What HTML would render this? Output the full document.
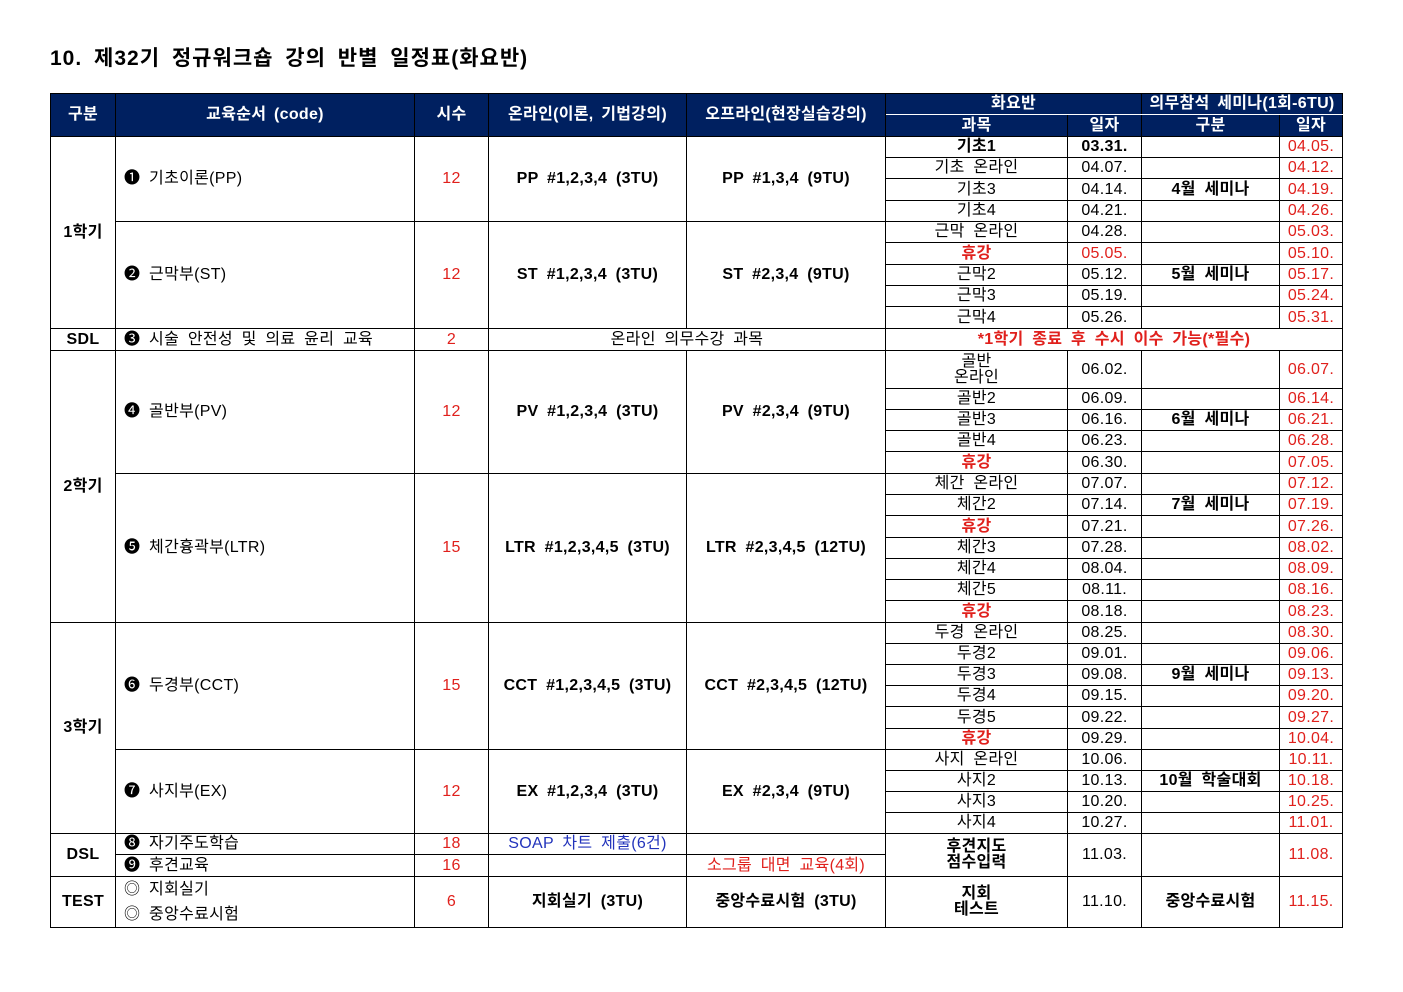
<!DOCTYPE html>
<html><head><meta charset="utf-8">
<style>
html,body{margin:0;padding:0;background:#fff;}
body{width:1403px;height:992px;position:relative;font-family:"Liberation Sans","Noto Sans CJK KR",sans-serif;color:#000;}
.title{position:absolute;left:50px;top:42px;font-size:21px;font-weight:bold;letter-spacing:1px;word-spacing:5px;}
table{position:absolute;left:50px;top:93px;border-collapse:collapse;table-layout:fixed;width:1292px;}
td{border:1px solid #000;padding:0;font-size:16px;line-height:16px;text-align:center;vertical-align:middle;overflow:hidden;white-space:nowrap;letter-spacing:0.3px;word-spacing:4px;}
th{background:#002060;color:#fff;font-weight:bold;font-size:16px;line-height:16px;border:1px solid #000;padding:0;letter-spacing:0.3px;word-spacing:3px;}
th.r1{border-bottom:1px solid #fff;}
.b{font-weight:bold;}
.r{color:#e0201c;}
.bl{color:#2233bb;}
.l{text-align:left;padding-left:8px;}
</style></head><body>
<div class="title">10. 제32기 정규워크숍 강의 반별 일정표(화요반)</div>
<table>
<colgroup><col style="width:65px"><col style="width:299px"><col style="width:74px"><col style="width:198px"><col style="width:199px"><col style="width:182px"><col style="width:74px"><col style="width:138px"><col style="width:63px"></colgroup>
<tr style="height:21px"><th rowspan="2">구분</th><th rowspan="2">교육순서 (code)</th><th rowspan="2">시수</th><th rowspan="2">온라인(이론, 기법강의)</th><th rowspan="2">오프라인(현장실습강의)</th><th colspan="2" class="r1">화요반</th><th colspan="2" class="r1">의무참석 세미나(1회-6TU)</th></tr>
<tr style="height:22px"><th>과목</th><th>일자</th><th>구분</th><th>일자</th></tr>

<tr style="height:21px"><td rowspan="9" class="b">1학기</td><td rowspan="4" class="l">❶ 기초이론(PP)</td><td rowspan="4" class="r">12</td><td rowspan="4" class="b">PP #1,2,3,4 (3TU)</td><td rowspan="4" class="b">PP #1,3,4 (9TU)</td><td class="b">기초1</td><td class="b">03.31.</td><td></td><td class="r">04.05.</td></tr>
<tr style="height:21px"><td>기초 온라인</td><td>04.07.</td><td></td><td class="r">04.12.</td></tr>
<tr style="height:22px"><td>기초3</td><td>04.14.</td><td class="b">4월 세미나</td><td class="r">04.19.</td></tr>
<tr style="height:21px"><td>기초4</td><td>04.21.</td><td></td><td class="r">04.26.</td></tr>
<tr style="height:21px"><td rowspan="5" class="l">❷ 근막부(ST)</td><td rowspan="5" class="r">12</td><td rowspan="5" class="b">ST #1,2,3,4 (3TU)</td><td rowspan="5" class="b">ST #2,3,4 (9TU)</td><td>근막 온라인</td><td>04.28.</td><td></td><td class="r">05.03.</td></tr>
<tr style="height:22px"><td class="r b">휴강</td><td class="r">05.05.</td><td></td><td class="r">05.10.</td></tr>
<tr style="height:21px"><td>근막2</td><td>05.12.</td><td class="b">5월 세미나</td><td class="r">05.17.</td></tr>
<tr style="height:21px"><td>근막3</td><td>05.19.</td><td></td><td class="r">05.24.</td></tr>
<tr style="height:22px"><td>근막4</td><td>05.26.</td><td></td><td class="r">05.31.</td></tr>

<tr style="height:22px"><td class="b">SDL</td><td class="l">❸ 시술 안전성 및 의료 윤리 교육</td><td class="r">2</td><td colspan="2">온라인 의무수강 과목</td><td colspan="4" class="r b">*1학기 종료 후 수시 이수 가능(*필수)</td></tr>

<tr style="height:38px"><td rowspan="12" class="b">2학기</td><td rowspan="5" class="l">❹ 골반부(PV)</td><td rowspan="5" class="r">12</td><td rowspan="5" class="b">PV #1,2,3,4 (3TU)</td><td rowspan="5" class="b">PV #2,3,4 (9TU)</td><td>골반<br>온라인</td><td>06.02.</td><td></td><td class="r">06.07.</td></tr>
<tr style="height:21px"><td>골반2</td><td>06.09.</td><td></td><td class="r">06.14.</td></tr>
<tr style="height:21px"><td>골반3</td><td>06.16.</td><td class="b">6월 세미나</td><td class="r">06.21.</td></tr>
<tr style="height:21px"><td>골반4</td><td>06.23.</td><td></td><td class="r">06.28.</td></tr>
<tr style="height:22px"><td class="r b">휴강</td><td>06.30.</td><td></td><td class="r">07.05.</td></tr>
<tr style="height:21px"><td rowspan="7" class="l">❺ 체간흉곽부(LTR)</td><td rowspan="7" class="r">15</td><td rowspan="7" class="b">LTR #1,2,3,4,5 (3TU)</td><td rowspan="7" class="b">LTR #2,3,4,5 (12TU)</td><td>체간 온라인</td><td>07.07.</td><td></td><td class="r">07.12.</td></tr>
<tr style="height:21px"><td>체간2</td><td>07.14.</td><td class="b">7월 세미나</td><td class="r">07.19.</td></tr>
<tr style="height:22px"><td class="r b">휴강</td><td>07.21.</td><td></td><td class="r">07.26.</td></tr>
<tr style="height:21px"><td>체간3</td><td>07.28.</td><td></td><td class="r">08.02.</td></tr>
<tr style="height:21px"><td>체간4</td><td>08.04.</td><td></td><td class="r">08.09.</td></tr>
<tr style="height:21px"><td>체간5</td><td>08.11.</td><td></td><td class="r">08.16.</td></tr>
<tr style="height:22px"><td class="r b">휴강</td><td>08.18.</td><td></td><td class="r">08.23.</td></tr>

<tr style="height:21px"><td rowspan="10" class="b">3학기</td><td rowspan="6" class="l">❻ 두경부(CCT)</td><td rowspan="6" class="r">15</td><td rowspan="6" class="b">CCT #1,2,3,4,5 (3TU)</td><td rowspan="6" class="b">CCT #2,3,4,5 (12TU)</td><td>두경 온라인</td><td>08.25.</td><td></td><td class="r">08.30.</td></tr>
<tr style="height:21px"><td>두경2</td><td>09.01.</td><td></td><td class="r">09.06.</td></tr>
<tr style="height:21px"><td>두경3</td><td>09.08.</td><td class="b">9월 세미나</td><td class="r">09.13.</td></tr>
<tr style="height:21px"><td>두경4</td><td>09.15.</td><td></td><td class="r">09.20.</td></tr>
<tr style="height:22px"><td>두경5</td><td>09.22.</td><td></td><td class="r">09.27.</td></tr>
<tr style="height:21px"><td class="r b">휴강</td><td>09.29.</td><td></td><td class="r">10.04.</td></tr>
<tr style="height:21px"><td rowspan="4" class="l">❼ 사지부(EX)</td><td rowspan="4" class="r">12</td><td rowspan="4" class="b">EX #1,2,3,4 (3TU)</td><td rowspan="4" class="b">EX #2,3,4 (9TU)</td><td>사지 온라인</td><td>10.06.</td><td></td><td class="r">10.11.</td></tr>
<tr style="height:21px"><td>사지2</td><td>10.13.</td><td class="b">10월 학술대회</td><td class="r">10.18.</td></tr>
<tr style="height:21px"><td>사지3</td><td>10.20.</td><td></td><td class="r">10.25.</td></tr>
<tr style="height:21px"><td>사지4</td><td>10.27.</td><td></td><td class="r">11.01.</td></tr>

<tr style="height:21px"><td rowspan="2" class="b">DSL</td><td class="l">❽ 자기주도학습</td><td class="r">18</td><td class="bl">SOAP 차트 제출(6건)</td><td></td><td rowspan="2" class="b">후견지도<br>점수입력</td><td rowspan="2">11.03.</td><td rowspan="2"></td><td rowspan="2" class="r">11.08.</td></tr>
<tr style="height:22px"><td class="l">❾ 후견교육</td><td class="r">16</td><td></td><td class="r">소그룹 대면 교육(4회)</td></tr>
<tr style="height:46px"><td class="b">TEST</td><td class="l" style="line-height:25px">◎ 지회실기<br>◎ 중앙수료시험</td><td class="r">6</td><td class="b">지회실기 (3TU)</td><td class="b">중앙수료시험 (3TU)</td><td class="b">지회<br>테스트</td><td>11.10.</td><td class="b">중앙수료시험</td><td class="r">11.15.</td></tr>
</table>
</body></html>
